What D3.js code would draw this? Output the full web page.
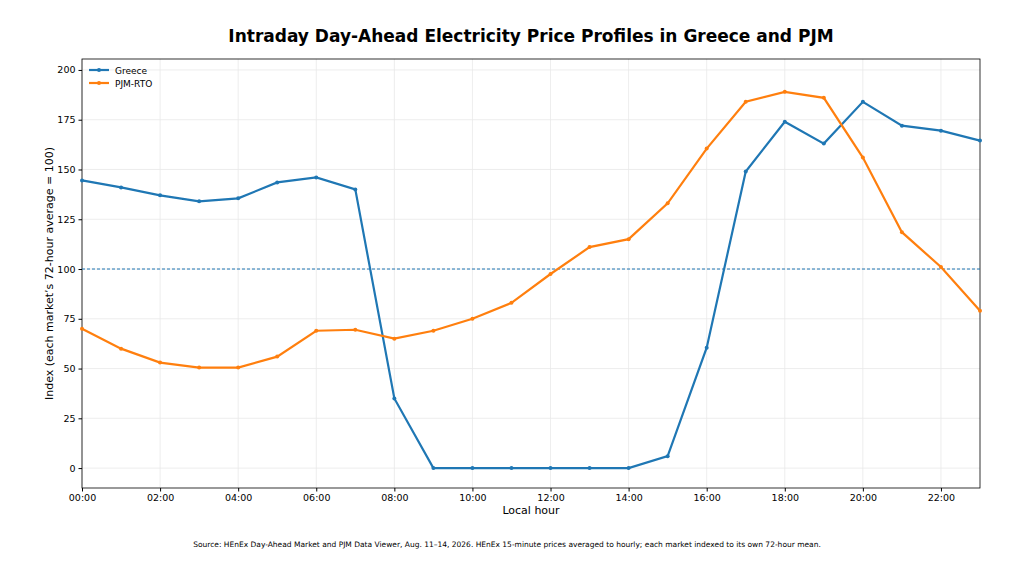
<!DOCTYPE html>
<html><head><meta charset="utf-8">
<script src="https://cdn.jsdelivr.net/npm/d3@7"></script>
<style>body{margin:0;background:#fff;font-family:"DejaVu Sans",sans-serif;}</style>
</head><body><div id="chart"></div>
<script>
var hours = d3.range(0, 24);
var greece = [144.5,141,137,134,135.5,143.5,146,140,35,0,0,0,0,0,0,6,60.5,149,174,163,184,172,169.5,164.5];
var pjm = [70,60,53,50.5,50.5,56,69,69.5,65,69,75,83,97.5,111,115,133,160.5,184,189,186,156,118.5,101,79];
var yTicks = [0,25,50,75,100,125,150,175,200];
var xTicks = [0,2,4,6,8,10,12,14,16,18,20,22];

var width = 1024, height = 576;
var m = {left: 82, right: 44, top: 59, bottom: 88};
var svg = d3.select('#chart').append('svg').attr('width', width).attr('height', height);
var x = d3.scaleLinear().domain([0, 23]).range([m.left, width - m.right]);
var y = d3.scaleLinear().domain([-10, 205.5]).range([height - m.bottom, m.top]);

// grid
svg.selectAll('.gx').data(xTicks).enter().append('line')
	.attr('x1', function (d) { return x(d); }).attr('x2', function (d) { return x(d); })
	.attr('y1', m.top).attr('y2', height - m.bottom)
	.attr('stroke', '#e8e8e8').attr('stroke-width', 0.8);
svg.selectAll('.gy').data(yTicks).enter().append('line')
	.attr('x1', m.left).attr('x2', width - m.right)
	.attr('y1', function (d) { return y(d); }).attr('y2', function (d) { return y(d); })
	.attr('stroke', '#e8e8e8').attr('stroke-width', 0.8);

// axes
var xa = svg.append('g').attr('transform', 'translate(0,' + (height - m.bottom) + ')')
	.call(d3.axisBottom(x).tickValues(xTicks).tickSize(3.5).tickFormat(function (d) { return d3.format('02d')(d) + ':00'; }));
var ya = svg.append('g').attr('transform', 'translate(' + m.left + ',0)')
	.call(d3.axisLeft(y).tickValues(yTicks).tickSize(3.5));
[xa, ya].forEach(function (a) {
	a.selectAll('text').attr('font-size', '9.5px').attr('fill', '#000').attr('font-family', '"DejaVu Sans",sans-serif');
	a.select('.domain').remove();
});
svg.append('rect').attr('x', m.left).attr('y', m.top)
	.attr('width', width - m.left - m.right).attr('height', height - m.top - m.bottom)
	.attr('fill', 'none').attr('stroke', '#000').attr('stroke-width', 0.8);

// reference line
svg.append('line').attr('x1', m.left).attr('x2', width - m.right)
	.attr('y1', y(100)).attr('y2', y(100))
	.attr('stroke', '#1f77b4').attr('stroke-width', 1).attr('stroke-dasharray', '3,2');

var series = [{name: 'Greece', values: greece, color: '#1f77b4'}, {name: 'PJM-RTO', values: pjm, color: '#ff7f0e'}];
var line = d3.line().x(function (d, i) { return x(hours[i]); }).y(function (d) { return y(d); });
series.forEach(function (s) {
	svg.append('path').attr('d', line(s.values)).attr('fill', 'none')
		.attr('stroke', s.color).attr('stroke-width', 2.2);
	svg.selectAll(null).data(s.values).enter().append('circle')
		.attr('cx', function (d, i) { return x(hours[i]); }).attr('cy', function (d) { return y(d); })
		.attr('r', 2).attr('fill', s.color);
});

// legend
series.forEach(function (s, i) {
	var ly = 70 + i * 13;
	svg.append('line').attr('x1', 89).attr('x2', 109).attr('y1', ly).attr('y2', ly)
		.attr('stroke', s.color).attr('stroke-width', 2.2);
	svg.append('circle').attr('cx', 99).attr('cy', ly).attr('r', 2).attr('fill', s.color);
	svg.append('text').attr('x', 115).attr('y', ly + 3.5).attr('font-size', '9px').text(s.name);
});

// titles
svg.append('text').attr('x', (m.left + width - m.right) / 2).attr('y', 42)
	.attr('text-anchor', 'middle').attr('font-size', '17px').attr('font-weight', 'bold')
	.text('Intraday Day-Ahead Electricity Price Profiles in Greece and PJM');
svg.append('text').attr('x', (m.left + width - m.right) / 2).attr('y', 514)
	.attr('text-anchor', 'middle').attr('font-size', '11px').text('Local hour');
svg.append('text').attr('transform', 'translate(53,' + ((m.top + height - m.bottom) / 2) + ') rotate(-90)')
	.attr('text-anchor', 'middle').attr('font-size', '11px')
	.text('Index (each market\u2019s 72-hour average = 100)');
svg.append('text').attr('x', 507).attr('y', 547).attr('text-anchor', 'middle').attr('font-size', '7.5px')
	.text('Source: HEnEx Day-Ahead Market and PJM Data Viewer, Aug. 11\u201314, 2026. HEnEx 15-minute prices averaged to hourly; each market indexed to its own 72-hour mean.');
</script></body></html>
